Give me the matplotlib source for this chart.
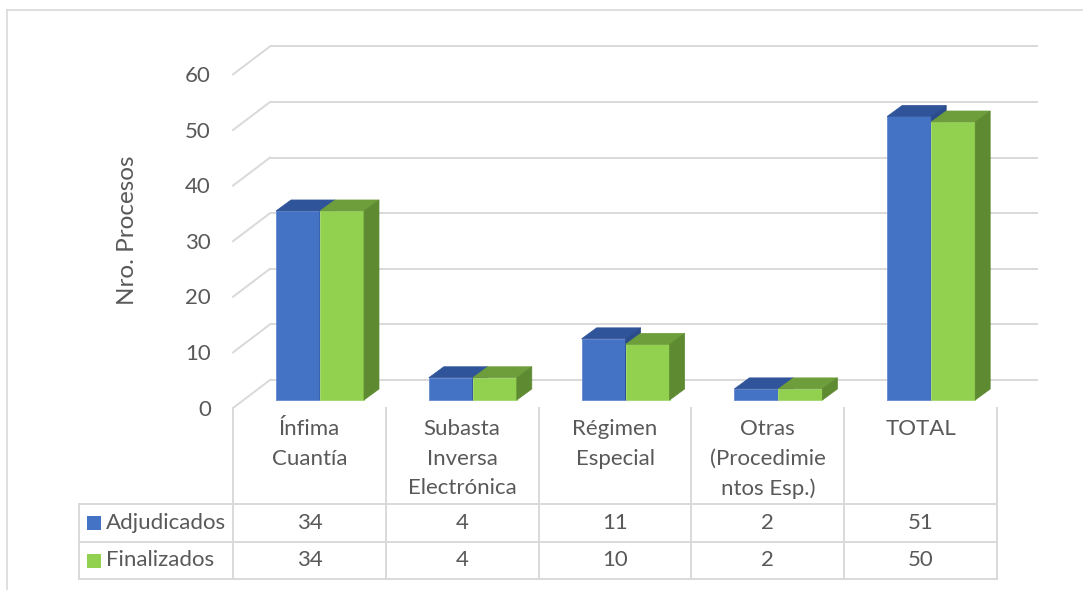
import matplotlib
matplotlib.use("Agg")
import matplotlib.pyplot as plt
from matplotlib.patches import Polygon, Rectangle

# ---------------- data ----------------
categories = ["Ínfima\nCuantía", "Subasta\nInversa\nElectrónica", "Régimen\nEspecial",
              "Otras\n(Procedimie\nntos Esp.)", "TOTAL"]
series_names = ["Adjudicados", "Finalizados"]
adjudicados = [34, 4, 11, 2, 51]
finalizados = [34, 4, 10, 2, 50]
y_ticks = [0, 10, 20, 30, 40, 50, 60]
y_label = "Nro. Procesos"

# ---------------- style ----------------
FONT = "Lato"
FS = 16
TXT = "#595959"
GRID = "#D9D9D9"
front_cols = ["#4472C4", "#92D050"]
top_cols = ["#30549A", "#6E9E3C"]
side_cols = ["#2B4C8C", "#5E8A32"]
edge_cols = ["#6E90D2", "#A6DA74"]

W, H = 1083, 590
fig = plt.figure(figsize=(W / 100, H / 100), dpi=100)
ax = fig.add_axes([0, 0, 1, 1])
ax.axis("off")

# layout: pixel geometry of the front plane
X0_PX, COL_PX = 233.0, 152.8
Y0_PX, UNIT_PX = 408.0, 5.56
ax.set_xlim(-0.5 - X0_PX / COL_PX, -0.5 + (W - X0_PX) / COL_PX)
ax.set_ylim(-(H - Y0_PX) / UNIT_PX, Y0_PX / UNIT_PX)


def dx(p):
    return p / COL_PX


def dy(p):
    return p / UNIT_PX


def xpx(p):
    return -0.5 + (p - X0_PX) / COL_PX


def ypx(p):
    return (Y0_PX - p) / UNIT_PX


n = len(categories)
wall_dx, wall_dy = dx(37), dy(28)      # front plane -> back wall
bar_dx, bar_dy = dx(10.6), dy(8)       # front plane -> bar front faces
dep_dx, dep_dy = dx(15), dy(11)        # bar depth
bw = dx(44)                            # bar width

# back wall gridlines and left wall diagonals
x_left, x_right = -0.5, n - 0.5
for v in y_ticks:
    ax.plot([x_left + wall_dx, x_right + wall_dx + dx(4)], [v + wall_dy] * 2,
            color=GRID, lw=1.4, zorder=1, solid_capstyle="butt")
    ax.plot([x_left, x_left + wall_dx], [v, v + wall_dy], color=GRID, lw=1.4, zorder=1)
    ax.text(xpx(211), v - dy(1.5), str(v), ha="right", va="center",
            fontsize=FS, color=TXT, family=FONT)

ax.text(xpx(128), ypx(230), y_label, rotation=90, ha="center", va="center",
        fontsize=17.5, color=TXT, family=FONT)

# bars
for i in range(n):
    for s, vals in enumerate([adjudicados, finalizados]):
        v = vals[i]
        x0 = i - bw + s * bw + bar_dx
        x1 = x0 + bw
        y0 = bar_dy
        y1 = v + bar_dy
        z = 3 + s
        ax.add_patch(Rectangle((x0, y0), bw, v, facecolor=front_cols[s],
                               edgecolor=edge_cols[s], lw=0.7, zorder=z))
        ax.add_patch(Polygon([(x0, y1), (x1, y1), (x1 + dep_dx, y1 + dep_dy),
                              (x0 + dep_dx, y1 + dep_dy)], closed=True,
                             facecolor=top_cols[s], edgecolor=top_cols[s], lw=0.5, zorder=z))
        ax.add_patch(Polygon([(x1, y0), (x1, y1), (x1 + dep_dx, y1 + dep_dy),
                              (x1 + dep_dx, y0 + dep_dy)], closed=True,
                             facecolor=side_cols[s], edgecolor=side_cols[s], lw=0.5, zorder=z))

# data table
t_top, r1, r2, r3 = ypx(408), ypx(504), ypx(542), ypx(579)
t_left = xpx(79)
for k in range(n + 1):
    ax.plot([x_left + k, x_left + k], [t_top, r3], color=GRID, lw=1.4, zorder=2)
ax.plot([t_left, t_left], [r1, r3], color=GRID, lw=1.4, zorder=2)
for yy in (r1, r2, r3):
    ax.plot([t_left, x_right], [yy, yy], color=GRID, lw=1.4, zorder=2)

for i, cat in enumerate(categories):
    ax.text(i, ypx(419), cat, ha="center", va="top", fontsize=FS, color=TXT,
            family=FONT, linespacing=1.6)

row_y = [(r1 + r2) / 2, (r2 + r3) / 2]
for s, (name, vals) in enumerate(zip(series_names, [adjudicados, finalizados])):
    yc = row_y[s]
    ax.add_patch(Rectangle((xpx(87), yc - dy(7)), dx(14), dy(14),
                           facecolor=front_cols[s], edgecolor="none", zorder=3))
    ax.text(xpx(106), yc, name, ha="left", va="center", fontsize=FS, color=TXT, family=FONT)
    for i, v in enumerate(vals):
        ax.text(i, yc, str(v), ha="center", va="center", fontsize=FS, color=TXT, family=FONT)

# chart border
ax.plot([xpx(7), xpx(W + 20)], [ypx(10), ypx(10)], color=GRID, lw=1.2, zorder=0)
ax.plot([xpx(7), xpx(7)], [ypx(10), ypx(H + 20)], color=GRID, lw=1.2, zorder=0)

fig.savefig("out.png", dpi=100, facecolor="white")
